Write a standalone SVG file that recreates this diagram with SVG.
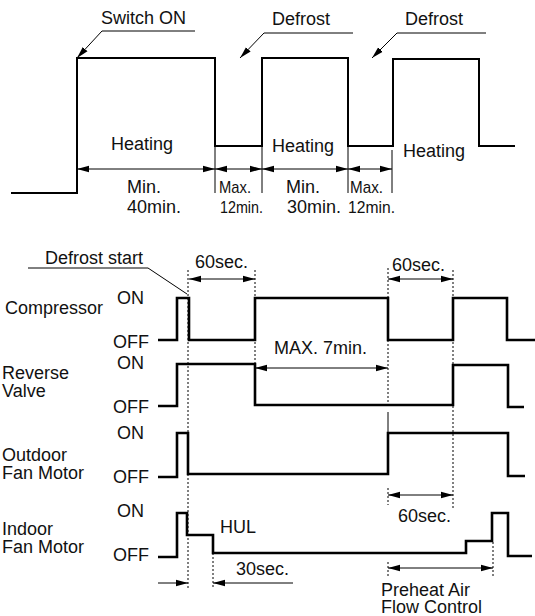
<svg xmlns="http://www.w3.org/2000/svg" width="535" height="616" viewBox="0 0 535 616">
<defs>
<marker id="ah" viewBox="0 0 12 8" refX="12" refY="4" markerWidth="12" markerHeight="8" markerUnits="userSpaceOnUse" orient="auto-start-reverse">
<path d="M0,0.8 L12,4 L0,7.2 z" fill="#000"/>
</marker>
<style>
text{font-family:"Liberation Sans",Arial,sans-serif;font-size:18px;fill:#111}
.wave{fill:none;stroke:#000;stroke-width:2.6;stroke-linejoin:miter}
.wave2{fill:none;stroke:#000;stroke-width:2;stroke-linejoin:miter}
.dim{fill:none;stroke:#000;stroke-width:1}
.arr{fill:none;stroke:#000;stroke-width:1;marker-start:url(#ah);marker-end:url(#ah)}
.arr1{fill:none;stroke:#000;stroke-width:1;marker-end:url(#ah)}
.dot{fill:none;stroke:#000;stroke-width:1;stroke-dasharray:2 2}
.sm{font-size:17px}
</style>
</defs>
<rect width="535" height="616" fill="#fff"/>

<g id="top-chart">
<polyline class="wave2" points="11,193 77,193 77,58 215,58 215,146 262,146 262,58 348,58 348,146 393,146 393,59 479,59 479,146 515,146"/>
<text x="111" y="150">Heating</text>
<text x="272" y="152">Heating</text>
<text x="403" y="157">Heating</text>
</g>

<g id="switch-on">
<polyline class="arr1" points="195,31 102,31 77,58"/>
<text x="101" y="24">Switch ON</text>
</g>
<g id="defrost-1">
<polyline class="arr1" points="353,33 264,33 240,58"/>
<text x="272" y="25">Defrost</text>
</g>
<g id="defrost-2">
<polyline class="arr1" points="486,33 397,33 372,58"/>
<text x="405" y="25">Defrost</text>
</g>

<g id="top-dimensions">
<line class="dim" x1="215" y1="147" x2="215" y2="193"/>
<line class="dim" x1="262" y1="147" x2="262" y2="193"/>
<line class="dim" x1="348" y1="147" x2="348" y2="193"/>
<line class="dim" x1="392" y1="150" x2="392" y2="193" stroke="#777"/>
<line class="arr" x1="77" y1="169" x2="215" y2="169"/>
<line class="arr" x1="215" y1="169" x2="262" y2="169"/>
<line class="arr" x1="262" y1="169" x2="348" y2="169"/>
<line class="arr" x1="348" y1="169" x2="392" y2="169"/>
<text x="127" y="193">Min.</text>
<text x="127" y="213">40min.</text>
<text class="sm" x="219" y="193" textLength="32" lengthAdjust="spacingAndGlyphs">Max.</text>
<text class="sm" x="220" y="213" textLength="43" lengthAdjust="spacingAndGlyphs">12min.</text>
<text x="286" y="193">Min.</text>
<text x="287" y="213">30min.</text>
<text class="sm" x="350" y="193" textLength="33" lengthAdjust="spacingAndGlyphs">Max.</text>
<text class="sm" x="348" y="213" textLength="47" lengthAdjust="spacingAndGlyphs">12min.</text>
</g>

<g id="defrost-start">
<polyline class="dim" points="28,268 148,268 187,294"/>
<text x="45" y="264">Defrost start</text>
</g>

<g id="compressor">
<text x="5" y="314">Compressor</text>
<text x="117" y="304">ON</text>
<text x="113" y="348">OFF</text>
<polyline class="wave" points="158,340 177,340 177,298 189,298 189,340 255,340 255,298 388,298 388,340 453,340 453,298 507,298 507,340 535,340"/>
</g>

<g id="reverse-valve">
<text x="2" y="379">Reverse</text>
<text x="2" y="397">Valve</text>
<text x="117" y="369">ON</text>
<text x="113" y="413">OFF</text>
<polyline class="wave" points="158,406 177,406 177,364 255,364 255,405 453,405 453,365 508,365 508,407 524,407"/>
</g>

<g id="outdoor-fan">
<text x="2" y="461">Outdoor</text>
<text x="2" y="479">Fan Motor</text>
<text x="117" y="439">ON</text>
<text x="113" y="483">OFF</text>
<polyline class="wave" points="158,477 177,477 177,433 188,433 188,474 388,474 388,433 508,433 508,476 525,476"/>
</g>

<g id="indoor-fan">
<text x="2" y="535">Indoor</text>
<text x="2" y="553">Fan Motor</text>
<text x="117" y="517">ON</text>
<text x="113" y="561">OFF</text>
<polyline class="wave" points="158,557 177,557 177,513 187,513 187,535 213,535 213,553 466,553 466,541 492,541 492,513 508,513 508,556 532,556"/>
<text x="220" y="533">HUL</text>
</g>

<g id="connectors">
<line class="dot" x1="188" y1="270" x2="188" y2="590"/>
<line class="dot" x1="255" y1="270" x2="255" y2="364"/>
<line class="dot" x1="388" y1="268" x2="388" y2="405"/>
<line class="dim" x1="388" y1="412" x2="388" y2="433"/>
<line class="dot" x1="388" y1="488" x2="388" y2="505"/>
<line class="dot" x1="388" y1="562" x2="388" y2="578"/>
<line class="dot" x1="453" y1="270" x2="453" y2="508"/>
<line class="dot" x1="213" y1="553" x2="213" y2="589"/>
<line class="dot" x1="493" y1="542" x2="493" y2="578"/>
<line class="arr" x1="189" y1="279" x2="255" y2="279"/>
<line class="arr" x1="388" y1="279" x2="453" y2="279"/>
<line class="arr" x1="255" y1="368" x2="388" y2="368"/>
<line class="arr" x1="388" y1="495" x2="453" y2="495"/>
<line class="arr1" x1="158" y1="583" x2="188" y2="583"/>
<line class="arr1" x1="293" y1="583" x2="213" y2="583"/>
<line class="arr" x1="388" y1="568" x2="493" y2="568"/>
<text x="195" y="268">60sec.</text>
<text x="392" y="271">60sec.</text>
<text x="274" y="354">MAX. 7min.</text>
<text x="398" y="522">60sec.</text>
<text x="236" y="575">30sec.</text>
<text x="381" y="596">Preheat Air</text>
<text x="381" y="613">Flow Control</text>
</g>
</svg>
